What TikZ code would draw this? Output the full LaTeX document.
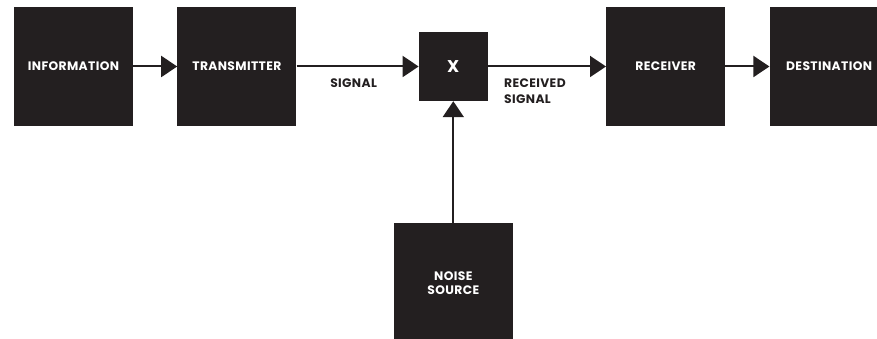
\documentclass[tikz,border=0pt]{standalone}
\usepackage{fontspec}
\setmainfont{Poppins}[LetterSpace=3]
\usetikzlibrary{positioning,arrows.meta,calc}
\definecolor{boxblack}{HTML}{231F20}

\begin{document}
\begin{tikzpicture}[
        x = 1pt, y = 1pt,
        node distance = 44pt,
        block/.style = {fill=boxblack, text=white, minimum size=119pt,
            inner sep=0pt, align=center, font=\bfseries\fontsize{12.3}{14}\selectfont},
        lbl/.style = {text=boxblack, inner sep=0pt, align=left,
            font=\bfseries\fontsize{12.3}{16}\selectfont},
        sig/.style = {draw=boxblack, line width=2pt,
            -{Triangle[length=16pt, width=21pt]}}]
        \useasboundingbox (0,0) rectangle (877,-339);
        % NODES
        % source side
        \node[block] (info) at (73.5,-66.5) {INFORMATION};
        \node[block, right = of info] (trans) {TRANSMITTER};
        % mixer
        \node[block, minimum size=69pt, font=\bfseries\fontsize{17}{18}\selectfont,
            right = 122pt of trans] (mix) {X};
        % receiving side
        \node[block, right = 118pt of mix] (recv) {RECEIVER};
        \node[block, right = of recv] (dest) {DESTINATION};
        % noise
        \node[block, below = 122pt of mix] (noise) {NOISE\\SOURCE};
        % labels
        \node[lbl, anchor=north] (sigl) at ([xshift=-4pt, yshift=-12.5pt]$(trans.east)!0.5!(mix.west)$) {SIGNAL};
        \node[lbl, anchor=north west] (rsigl) at ([xshift=16pt, yshift=-12.5pt]mix.east) {RECEIVED\\SIGNAL};

        % ARROWS
        \draw[sig] (info) -- (trans);
        \draw[sig] (trans) -- (mix);
        \draw[sig] (mix) -- (recv);
        \draw[sig] (recv) -- (dest);
        \draw[sig] (noise) -- (mix);
    \end{tikzpicture}
\end{document}
